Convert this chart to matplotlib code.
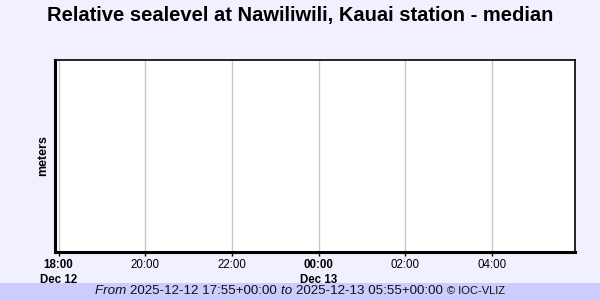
import matplotlib
matplotlib.use("Agg")
import matplotlib.pyplot as plt
from datetime import datetime

plt.rcParams['font.family'] = ['Liberation Sans', 'DejaVu Sans']

title = "Relative sealevel at Nawiliwili, Kauai station - median"
ylabel = "meters"
t_start = datetime(2025, 12, 12, 17, 55)
t_end = datetime(2025, 12, 13, 5, 55)
tick_times = [datetime(2025, 12, 12, 18), datetime(2025, 12, 12, 20), datetime(2025, 12, 12, 22),
              datetime(2025, 12, 13, 0), datetime(2025, 12, 13, 2), datetime(2025, 12, 13, 4)]
tick_labels = ["18:00\nDec 12", "20:00", "22:00", "00:00\nDec 13", "02:00", "04:00"]
bold_ticks = [True, False, False, True, False, False]

# no data in the selected period
times = []
values = []

fig = plt.figure(figsize=(6, 3), dpi=100, facecolor='#f0f0ff')
ax = fig.add_axes([55 / 600, 48 / 300, 520 / 600, 192 / 300])
ax.set_facecolor('white')
ax.plot(times, values, color='#0000cc')
ax.set_xlim(t_start, t_end)
ax.set_ylim(0, 1)
ax.set_xticks(tick_times)
ax.set_xticklabels(tick_labels)
for lab, b in zip(ax.get_xticklabels(), bold_ticks):
    lab.set_fontsize(8.3)
    lab.set_va('top')
    lab.set_linespacing(1.3)
    if b:
        lab.set_fontweight('bold')
ax.set_yticks([])
ax.grid(axis='x', color='#c8c8c8', linewidth=1)
ax.tick_params(axis='x', length=3, width=1, pad=2, color='black')
ax.spines['left'].set_linewidth(2.2)
ax.spines['bottom'].set_linewidth(2.2)
ax.spines['top'].set_linewidth(1.2)
ax.spines['right'].set_linewidth(1.2)
ax.set_ylabel(ylabel, fontsize=9, fontweight='bold', labelpad=4)

fig.text(0.5, 1 - 16 / 300, title, ha='center', va='center', fontsize=14.5, fontweight='bold')

fig.patches.append(plt.Rectangle((0, 0), 1, 17 / 300, transform=fig.transFigure,
                                 facecolor='#ccccff', edgecolor='none', zorder=0))
fy = 8.5 / 300
parts = [("From ", 'italic', 9.6), ("2025-12-12 17:55+00:00 ", 'normal', 9.6), ("to ", 'italic', 9.6),
         ("2025-12-13 05:55+00:00 ", 'normal', 9.6), ("\u00a9 IOC-VLIZ", 'normal', 8)]
renderer = fig.canvas.get_renderer()
texts = []
for s, st, fs in parts:
    texts.append(fig.text(0, fy, s, ha='left', va='center', fontsize=fs, style=st, color='#111111'))
widths = [t.get_window_extent(renderer).width for t in texts]
x = (600 - sum(widths)) / 2
for t, w in zip(texts, widths):
    t.set_x(x / 600)
    x += w

fig.savefig("out.png", dpi=100, facecolor=fig.get_facecolor())
